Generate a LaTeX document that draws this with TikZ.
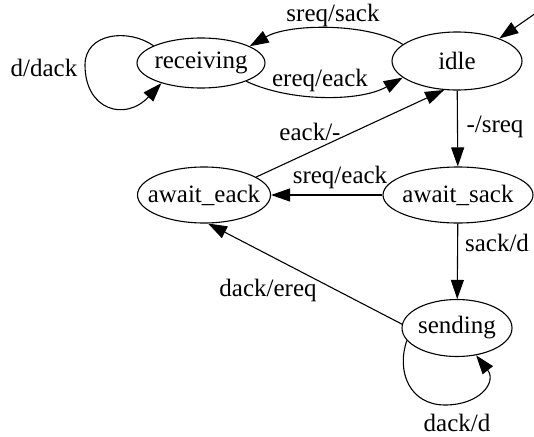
\documentclass[tikz,border=0pt]{standalone}
\usepackage{fontspec}
\setmainfont{Liberation Serif}
\newfontfamily\gvfont{Liberation Serif}
\usetikzlibrary{arrows.meta,shapes.geometric}
\begin{document}
\begin{tikzpicture}[x=1pt,y=-1pt,
  every node/.style={font=\gvfont\fontsize{25}{30}\selectfont},
  state/.style={draw,ellipse,inner sep=0pt,line width=1.1pt},
  edge/.style={line width=1.1pt,-{Triangle[length=19pt,width=13pt]}},
  lbl/.style={inner sep=0pt}]
\useasboundingbox (0,0) rectangle (534,436);
\node[state,minimum width=128pt,minimum height=50pt] (receiving) at (201,63) {\makebox[0pt]{receiving}};
\node[state,minimum width=130pt,minimum height=58pt] (idle) at (457,61) {\makebox[0pt]{idle}};
\node[state,minimum width=133pt,minimum height=56pt] (await_eack) at (204,195) {\makebox[0pt]{await\_eack}};
\node[state,minimum width=150pt,minimum height=56pt] (await_sack) at (458,195) {\makebox[0pt]{await\_sack}};
\node[state,minimum width=110pt,minimum height=57pt] (sending) at (457,328) {\makebox[0pt]{sending}};
\coordinate (init) at (536,13);
\draw[edge] (init) -- (idle.28);
\draw[edge] (idle.163) .. controls (370,23) and (290,23) .. (receiving.19);
\draw[edge] (receiving.-22) .. controls (290,102) and (360,102) .. (idle.197);
\draw[edge] (receiving.160) .. controls (128,28) and (85,33) .. (85,65) .. controls (85,110) and (125,122) .. (receiving.207);
\draw[edge] (idle) -- (await_sack);
\draw[edge] (await_eack.19) -- (idle.246);
\draw[edge] (await_sack) -- (await_eack);
\draw[edge] (await_sack) -- (sending);
\draw[edge] (sending.176) -- (await_eack.278);
\draw[edge] (sending.194) .. controls (396,372) and (410,405) .. (445,405) .. controls (480,405) and (497,382) .. (sending.305);
\node[lbl] (l1) at (333,15) {sreq/sack};
\node[lbl] (l2) at (320,80) {ereq/eack};
\node[lbl] (l3) at (44,68) {d/dack};
\node[lbl] (l4) at (495,127) {-/sreq};
\node[lbl] (l5) at (310,132) {eack/-};
\node[lbl] (l6) at (340,177) {sreq/eack};
\node[lbl] (l7) at (497,243) {sack/d};
\node[lbl] (l8) at (268,290) {dack/ereq};
\node[lbl] (l9) at (457,423) {dack/d};
\end{tikzpicture}
\end{document}
